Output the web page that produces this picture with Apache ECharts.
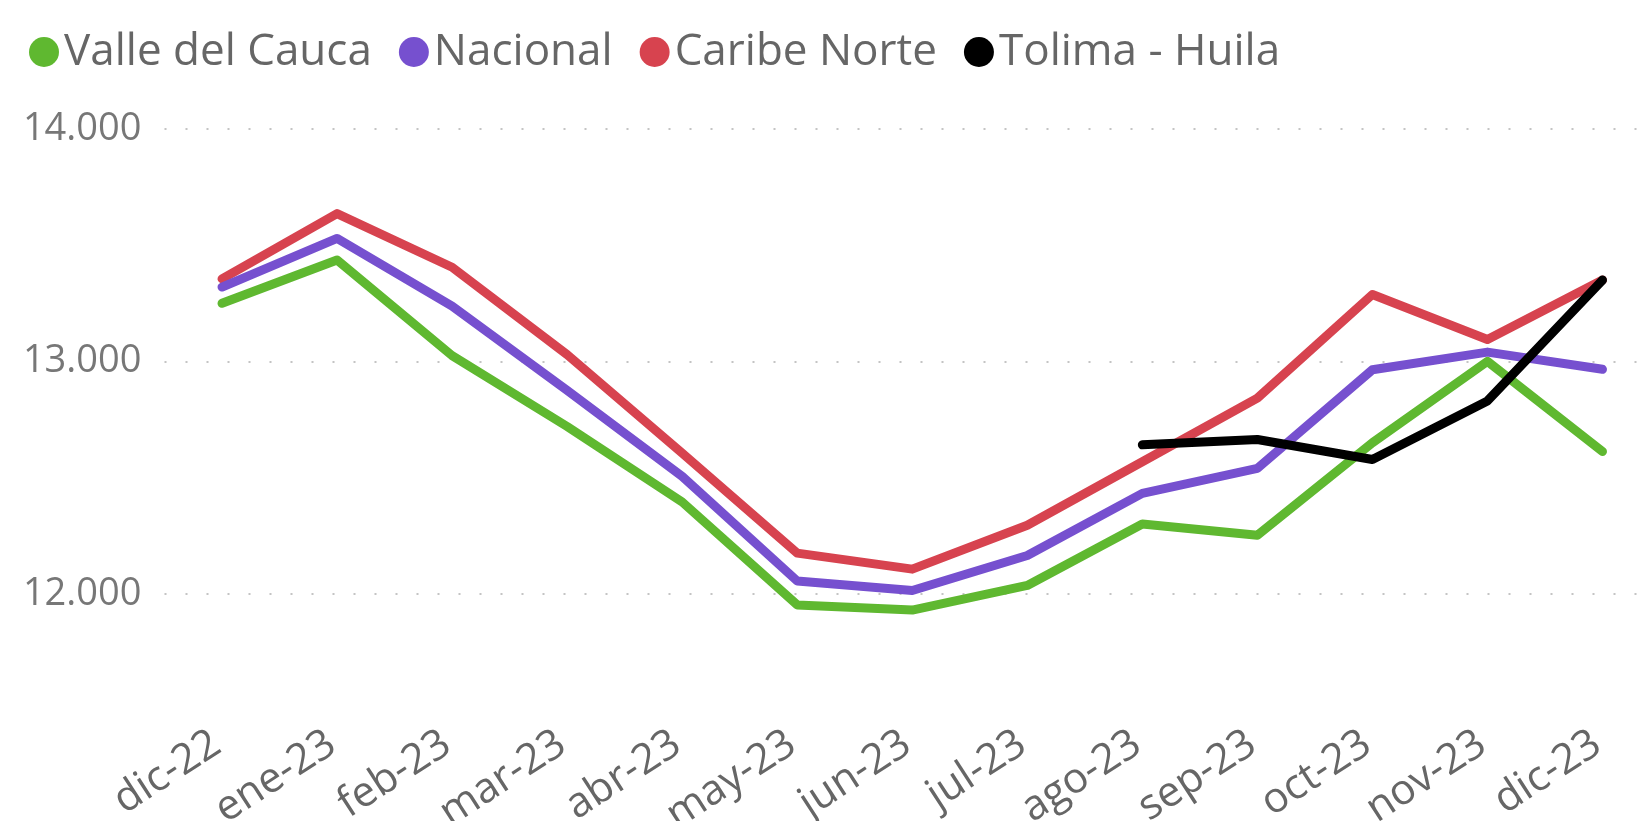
<!DOCTYPE html>
<html>
<head>
<meta charset="utf-8">
<script src="https://cdn.jsdelivr.net/npm/echarts@6/dist/echarts.min.js"></script>
<style>
  html, body { margin: 0; padding: 0; background: #fff; overflow: hidden; }
  /* el gráfico se recorta por la derecha, como en la captura original */
  #chart { width: 1660px; height: 821px; }
</style>
</head>
<body>
<div id="chart"></div>
<script>
// categorías (meses)
const months = ['dic-22', 'ene-23', 'feb-23', 'mar-23', 'abr-23', 'may-23', 'jun-23',
  'jul-23', 'ago-23', 'sep-23', 'oct-23', 'nov-23', 'dic-23'];

const valleDelCauca = [13250, 13436, 13025, 12720, 12395, 11952, 11930, 12036, 12300, 12252, 12650, 13000, 12612];
const nacional = [13320, 13529, 13238, 12875, 12505, 12055, 12014, 12165, 12432, 12540, 12964, 13040, 12966];
const caribeNorte = [13355, 13636, 13405, 13029, 12605, 12175, 12106, 12295, 12568, 12842, 13288, 13094, 13350];
const tolimaHuila = [null, null, null, null, null, null, null, null, 12641, 12664, 12578, 12830, 13350];

const FONT = '"Segoe UI", "Open Sans", sans-serif';

const chart = echarts.init(document.getElementById('chart'));

const mkLine = (name, data, color, z) => ({
  name,
  type: 'line',
  data,
  z,
  symbol: 'none',
  showSymbol: false,
  connectNulls: false,
  itemStyle: { color },
  lineStyle: { color, width: 9, cap: 'round', join: 'round' }
});

const option = {
  backgroundColor: '#fff',
  animation: false,
  legend: {
    left: 24,
    top: 25,
    icon: 'circle',
    itemWidth: 30,
    itemHeight: 30,
    itemGap: 27,
    textStyle: { color: '#666', fontSize: 44, fontFamily: FONT },
    data: ['Valle del Cauca', 'Nacional', 'Caribe Norte', 'Tolima - Huila']
  },
  grid: {
    left: 164.5,
    right: 0,
    top: 129,
    bottom: 111,
    outerBoundsMode: 'none'
  },
  xAxis: {
    type: 'category',
    data: months,
    boundaryGap: true,
    axisLine: { show: false },
    axisTick: { show: false },
    splitLine: { show: false },
    axisLabel: {
      interval: 0,
      rotate: 33,
      margin: 27,
      padding: [0, 6, 0, 0],
      color: '#666',
      fontSize: 42,
      fontFamily: FONT
    }
  },
  yAxis: {
    type: 'value',
    min: 11500,
    max: 14000,
    interval: 500,
    axisLine: { show: false },
    axisTick: { show: false },
    axisLabel: {
      margin: 23,
      color: '#777',
      fontSize: 38,
      fontFamily: FONT,
      formatter: v => (v % 1000 === 0 ? (v / 1000) + '.000' : '')
    },
    splitLine: {
      show: true,
      lineStyle: { color: ['rgba(0,0,0,0)', '#c4c4c4'], width: 2, type: [2, 19] }
    }
  },
  series: [
    mkLine('Valle del Cauca', valleDelCauca, '#5fb830', 2),
    mkLine('Caribe Norte', caribeNorte, '#d7434f', 3),
    mkLine('Nacional', nacional, '#7650cf', 4),
    mkLine('Tolima - Huila', tolimaHuila, '#000000', 5)
  ]
};

chart.setOption(option);
</script>
</body>
</html>
